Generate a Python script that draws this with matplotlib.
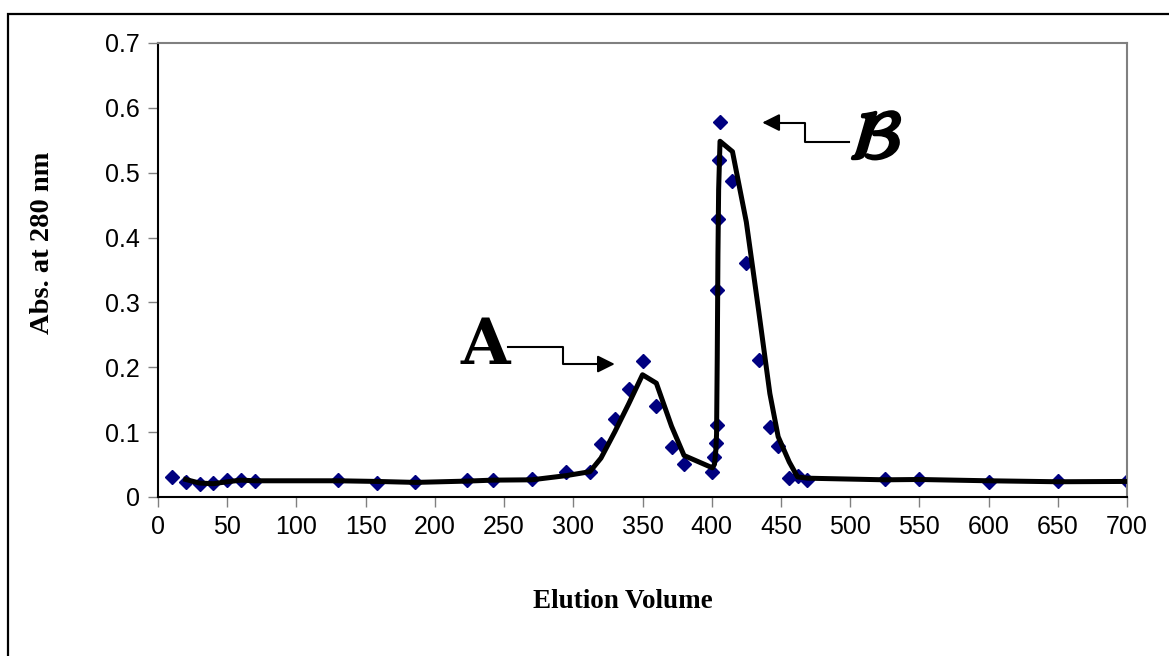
import numpy as np
import pandas as pd
import matplotlib
matplotlib.use("Agg")
from matplotlib import pyplot as plt
from matplotlib.patches import Rectangle
import matplotlib.patheffects as pe

# elution volume / absorbance readings
vol = [10, 20, 30, 40, 50, 60, 70, 130, 158, 186, 223, 242, 270, 295, 312, 320,
       330, 340, 350, 360, 371, 380, 400.5, 402, 403, 403.5, 404, 404.5, 405, 406,
       415, 425, 434, 442, 448, 456, 462, 469, 525, 550, 600, 650, 700]
absorb = [0.031, 0.023, 0.020, 0.021, 0.026, 0.026, 0.024, 0.026, 0.022, 0.023,
          0.026, 0.026, 0.027, 0.039, 0.039, 0.081, 0.12, 0.167, 0.21, 0.141,
          0.077, 0.051, 0.039, 0.062, 0.083, 0.111, 0.319, 0.429, 0.519, 0.578,
          0.487, 0.361, 0.211, 0.108, 0.078, 0.030, 0.032, 0.026, 0.027, 0.027,
          0.023, 0.024, 0.024]

xticks = list(range(0, 701, 50))
yticks = [0, 0.1, 0.2, 0.3, 0.4, 0.5, 0.6, 0.7]
ytick_labels = ["0", "0.1", "0.2", "0.3", "0.4", "0.5", "0.6", "0.7"]

# 2 period moving average trendline (like excel)
trend = pd.Series(absorb).rolling(2).mean()

fig = plt.figure(figsize=(11.69, 6.56), dpi=100)
ax = fig.add_axes([158/1169, 1-497/656, (1127-158)/1169, (497-43)/656])

ax.plot(vol, absorb, linestyle="none", marker="D", markersize=6.8,
        color="#000080", zorder=2)
ax.plot(vol, trend, color="black", linewidth=3.6, zorder=3)

ax.set_xlim(0, 700)
ax.set_ylim(0, 0.7)
ax.set_xticks(xticks)
ax.set_yticks(yticks)
ax.set_yticklabels(ytick_labels)
ax.tick_params(direction="out", length=7, width=1, color="#808080",
               labelsize=18, pad=6)
for lab in ax.get_xticklabels() + ax.get_yticklabels():
    lab.set_family("Liberation Sans")
ax.spines["top"].set_color("#808080")
ax.spines["right"].set_color("#808080")
ax.spines["left"].set_color("black")
ax.spines["bottom"].set_color("black")
for s in ax.spines.values():
    s.set_linewidth(1.5)

fig.text(623/1169, 1-602/656, "Elution Volume", ha="center", va="center",
         family="Liberation Serif", weight="bold", fontsize=19.5)
fig.text(43/1169, 1-243/656, "Abs. at 280 nm", ha="center", va="center",
         rotation=90, family="Liberation Serif", weight="bold", fontsize=20.5)

# peak labels with elbow arrows
ax.text(254, 0.2316, "A", ha="right", va="center", family="DejaVu Serif",
        weight="bold", fontsize=46)
ax.plot([253, 292.6, 292.6, 320], [0.2316, 0.2316, 0.205, 0.205],
        color="black", linewidth=1.5)
ax.annotate("", xy=(332, 0.205), xytext=(318, 0.205),
            arrowprops=dict(arrowstyle="-|>", color="black", lw=1.5,
                            mutation_scale=26))

ax.text(500, 0.552, r"$\mathcal{B}$", ha="left", va="center", fontsize=50,
        path_effects=[pe.withStroke(linewidth=2.5, foreground="black")])
ax.plot([499.5, 467.5, 467.5, 447], [0.548, 0.548, 0.5773, 0.5773],
        color="black", linewidth=1.5)
ax.annotate("", xy=(434.5, 0.5773), xytext=(448, 0.5773),
            arrowprops=dict(arrowstyle="-|>", color="black", lw=1.5,
                            mutation_scale=26))

# outer chart frame
fig.patches.append(Rectangle((8/1169, -0.05), 1.2, 1-14/656+0.05,
                             transform=fig.transFigure, fill=False,
                             edgecolor="black", linewidth=1.6))

fig.savefig("out.png", dpi=100)
